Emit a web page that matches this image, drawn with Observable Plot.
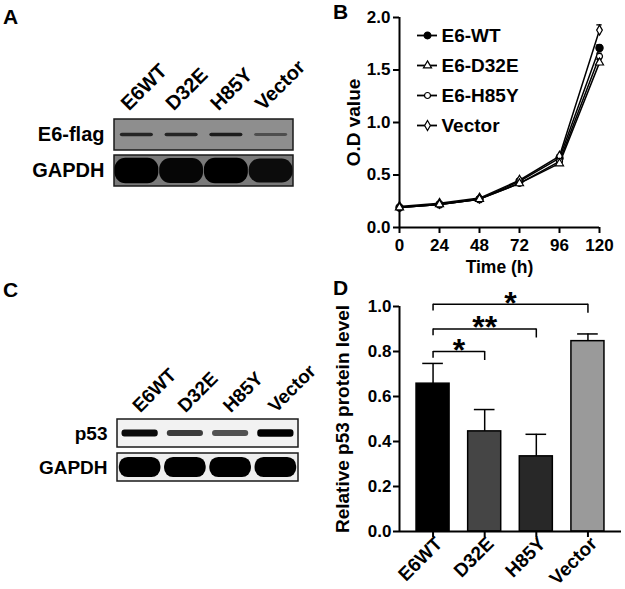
<!DOCTYPE html>
<html>
<head>
<meta charset="utf-8">
<script src="https://cdn.jsdelivr.net/npm/d3@7"></script>
<script src="https://cdn.jsdelivr.net/npm/@observablehq/plot@0.6"></script>
<style>
  body { margin: 0; background: #fff; }
  #fig { position: relative; width: 625px; height: 589px; background: #fff; overflow: hidden;
         font-family: "Liberation Sans", Arial, Helvetica, sans-serif; font-weight: bold; color: #000; }
  .panel { position: absolute; }
  .letter { position: absolute; font-size: 21px; line-height: 1; font-weight: bold; }
  svg { overflow: visible; }
</style>
</head>
<body>
<div id="fig">
  <div class="letter" style="left:3px;top:6px">A</div>
  <div class="letter" style="left:333px;top:1px">B</div>
  <div class="letter" style="left:3px;top:279px">C</div>
  <div class="letter" style="left:333px;top:277px">D</div>
</div>
<script>
// ---------------- data ----------------
const lanes = ["E6WT", "D32E", "H85Y", "Vector"];

// Panel A blot (relative band intensity 0..1)
const blotARows = ["E6-flag", "GAPDH"];
const e6flagIntensity = [0.75, 0.75, 0.8, 0.45];
const gapdhAIntensity = [1.0, 0.95, 1.0, 0.9];

// Panel C blot
const blotCRows = ["p53", "GAPDH"];
const p53Intensity = [0.95, 0.7, 0.6, 1.0];
const gapdhCIntensity = [1.0, 1.0, 1.0, 1.0];

// Panel B growth curves
const seriesNames = ["E6-WT", "E6-D32E", "E6-H85Y", "Vector"];
const timePoints = [0, 24, 48, 72, 96, 120];
const odWT     = [0.19, 0.22, 0.27, 0.44, 0.66, 1.71];
const odD32E   = [0.19, 0.22, 0.27, 0.42, 0.61, 1.57];
const odH85Y   = [0.19, 0.22, 0.27, 0.42, 0.63, 1.63];
const odVector = [0.20, 0.23, 0.28, 0.45, 0.68, 1.88];
const errWT     = [0.01, 0.01, 0.01, 0.01, 0.01, 0.03];
const errD32E   = [0.01, 0.01, 0.01, 0.01, 0.01, 0.03];
const errH85Y   = [0.01, 0.01, 0.01, 0.01, 0.01, 0.03];
const errVector = [0.01, 0.01, 0.01, 0.01, 0.01, 0.05];
const odTicks = [0, 0.5, 1.0, 1.5, 2.0];

// Panel D relative p53
const p53Level = [0.657, 0.445, 0.334, 0.846];
const p53Err   = [0.09, 0.097, 0.098, 0.032];
const barColors = ["#000000", "#454545", "#282828", "#9a9a9a"];
const p53Ticks = [0, 0.2, 0.4, 0.6, 0.8, 1.0];
const comparisons = [
  {a: 0, b: 1, h: 0.80, label: "*"},
  {a: 0, b: 2, h: 0.90, label: "**"},
  {a: 0, b: 3, h: 1.01, label: "*"}
];

// ---------------- helpers ----------------
const FONT = '"Liberation Sans", Arial, Helvetica, sans-serif';
const fig = document.getElementById("fig");
function place(node, left, top) {
  node.classList.add("panel");
  node.style.left = left + "px";
  node.style.top = top + "px";
  fig.appendChild(node);
}
function addBlur(svg, id, sd) {
  const s = d3.select(svg);
  const f = s.insert("defs", ":first-child").append("filter")
    .attr("id", id).attr("x", "-20%").attr("y", "-150%").attr("width", "140%").attr("height", "400%");
  f.append("feGaussianBlur").attr("stdDeviation", sd);
  s.selectAll('[aria-label="band"]').attr("filter", `url(#${id})`);
}

// ---------------- blot builder ----------------
function blot({rows, intensities, bgs, thick, halfW, shadeFrom, radius, width, height, mL, mR, mT, mB, padInner, labelDx, labelDy, fontSize}) {
  const bands = [];
  rows.forEach((r, ri) => intensities[ri].forEach((v, i) => bands.push({row: r, i, v,
    t: thick[ri] * (0.5 + 0.5 * v), hw: halfW[ri],
    fill: d3.interpolateRgb(shadeFrom[ri], "#000")(v)})));
  const rowData = rows.map((r, ri) => ({row: r, bg: bgs[ri]}));
  const marks = [
    Plot.rect(rowData, {fy: "row", x1: -0.5, x2: 3.5, y1: 0, y2: 1, fill: "bg", stroke: "#1a1a1a", strokeWidth: 1.5})
  ];
  rows.forEach((r, ri) => marks.push(
    Plot.rect(bands.filter(d => d.row === r), {fy: "row", x1: d => d.i - d.hw, x2: d => d.i + d.hw,
      y1: d => 0.5 - d.t / 2, y2: d => 0.5 + d.t / 2, fill: "fill", rx: radius[ri], ariaLabel: "band"})));
  marks.push(
    Plot.text(rows, {fy: d => d, text: d => d, frameAnchor: "left", dx: -10, textAnchor: "end", fontSize}),
    Plot.text(lanes, {fy: () => rows[0], x: (d, i) => i, text: d => d, frameAnchor: "top",
      dx: labelDx, dy: labelDy, rotate: -45, textAnchor: "start", lineAnchor: "bottom", fontSize})
  );
  return Plot.plot({
    width, height, marginLeft: mL, marginRight: mR, marginTop: mT, marginBottom: mB,
    x: {domain: [-0.5, 3.5], axis: null},
    y: {domain: [0, 1], axis: null},
    fy: {domain: rows, axis: null, paddingInner: padInner, paddingOuter: 0},
    color: {type: "identity"},
    style: {fontFamily: FONT, fontWeight: "bold", fontSize: fontSize + "px", color: "#000", background: "transparent", overflow: "visible"},
    marks
  });
}

// Panel A
const plotA = blot({
  rows: blotARows, intensities: [e6flagIntensity, gapdhAIntensity],
  bgs: ["#8e8e8e", "#7a7a7a"], thick: [0.13, 0.82], halfW: [0.37, 0.49], shadeFrom: ["#8e8e8e", "#7a7a7a"], radius: [2, 11],
  width: 310, height: 180, mL: 114, mR: 17, mT: 88, mB: 24, padInner: 0.14, labelDx: -8, labelDy: -8, fontSize: 20
});
addBlur(plotA, "blurA", 1.3);
place(plotA, 0, 30);

// Panel C
const plotC = blot({
  rows: blotCRows, intensities: [p53Intensity, gapdhCIntensity],
  bgs: ["#f2f2f2", "#eeeeee"], thick: [0.26, 0.72], halfW: [0.4, 0.46], shadeFrom: ["#cccccc", "#888888"], radius: [3, 9],
  width: 310, height: 200, mL: 117, mR: 12, mT: 119, mB: 19, padInner: 0.18, labelDx: 0, labelDy: -6, fontSize: 19
});
addBlur(plotC, "blurC", 1.1);
place(plotC, 0, 300);

// ---------------- Panel B ----------------
const odSeries = [odWT, odD32E, odH85Y, odVector];
const errSeries = [errWT, errD32E, errH85Y, errVector];
const growth = [];
seriesNames.forEach((s, si) => timePoints.forEach((t, ti) =>
  growth.push({s, t, v: odSeries[si][ti], e: errSeries[si][ti]})));
const drawOrder = [3, 2, 1, 0];
const growthSorted = drawOrder.flatMap(si => growth.filter(d => d.s === seriesNames[si]));

const symbolScale = {domain: seriesNames, range: ["circle", "triangle", "circle", "diamond"]};
const fillScale = {domain: seriesNames, range: ["#000", "#fff", "#fff", "#fff"]};

const plotB = Plot.plot({
  width: 305, height: 290, marginLeft: 79, marginTop: 17, marginBottom: 63, marginRight: 26,
  x: {domain: [0, 120]}, y: {domain: [0, 2]},
  symbol: symbolScale, color: fillScale,
  style: {fontFamily: FONT, fontWeight: "bold", fontSize: "17px", color: "#000", background: "transparent", overflow: "visible"},
  marks: [
    Plot.axisX({ticks: timePoints, tickSize: 6, tickPadding: 5, strokeWidth: 2, label: null, fontSize: 17}),
    Plot.axisY({ticks: odTicks, tickFormat: d => d.toFixed(1), tickSize: 6, tickPadding: 3, strokeWidth: 2, label: null, fontSize: 17}),
    Plot.ruleX([0], {y1: 0, y2: 2, strokeWidth: 2}),
    Plot.ruleY([0], {x1: 0, x2: 120, strokeWidth: 2}),
    Plot.text(["Time (h)"], {text: d => d, frameAnchor: "bottom", textAnchor: "middle", dy: 45, fontSize: 17.5}),
    Plot.text(["O.D value"], {text: d => d, frameAnchor: "left", textAnchor: "middle", dx: -46, rotate: -90, fontSize: 19}),
    Plot.ruleX(growth, {x: "t", y1: d => d.v - d.e, y2: d => d.v + d.e, strokeWidth: 1.3}),
    Plot.ruleY(growth, {y: d => d.v + d.e, x1: d => d.t - 1.6, x2: d => d.t + 1.6, strokeWidth: 1.3}),
    Plot.line(growth, {x: "t", y: "v", z: "s", stroke: "#000", strokeWidth: 1.5}),
    Plot.dot(growthSorted, {x: "t", y: "v", symbol: "s", fill: "s", stroke: "#000", strokeWidth: 1.2,
      r: d => d.s === "E6-WT" ? 4.8 : 3.3})
  ]
});
place(plotB, 320, 0);

// Legend for B
const plotBLegend = Plot.plot({
  width: 130, height: 120, marginLeft: 4, marginRight: 106, marginTop: 0, marginBottom: 0,
  x: {domain: [0, 1], axis: null},
  y: {type: "point", domain: seriesNames, padding: 0.5, axis: null},
  symbol: symbolScale, color: fillScale,
  style: {fontFamily: FONT, fontWeight: "bold", fontSize: "19px", color: "#000", background: "transparent", overflow: "visible"},
  marks: [
    Plot.ruleY(seriesNames, {y: d => d, x1: 0, x2: 1, strokeWidth: 1.8}),
    Plot.dot(seriesNames, {x: 0.5, y: d => d, symbol: d => d, fill: d => d, stroke: "#000", strokeWidth: 1.2,
      r: d => d === "E6-WT" ? 4.2 : 3.3}),
    Plot.text(seriesNames, {x: 1, y: d => d, text: d => d, dx: 4, textAnchor: "start", fontSize: 19})
  ]
});
place(plotBLegend, 413, 20);

// ---------------- Panel D ----------------
const bars = lanes.map((c, i) => ({c, i, v: p53Level[i], e: p53Err[i], fill: barColors[i]}));
const plotD = Plot.plot({
  width: 295, height: 309, marginLeft: 69, marginRight: 4, marginTop: 26, marginBottom: 58,
  x: {domain: [-0.65, 3.65]}, y: {domain: [0, 1]},
  color: {type: "identity"},
  style: {fontFamily: FONT, fontWeight: "bold", fontSize: "17px", color: "#000", background: "transparent", overflow: "visible"},
  marks: [
    Plot.ruleX(bars, {x: "i", y1: "v", y2: d => d.v + d.e, strokeWidth: 1.5}),
    Plot.ruleY(bars, {y: d => d.v + d.e, x1: d => d.i - 0.2, x2: d => d.i + 0.2, strokeWidth: 1.5}),
    Plot.rectY(bars, {x1: d => d.i - 0.32, x2: d => d.i + 0.32, y1: 0, y2: "v", fill: "fill", stroke: "#000", strokeWidth: 1.5}),
    Plot.axisX({ticks: [0, 1, 2, 3], tickSize: 6, tickPadding: 3, strokeWidth: 2, text: null, label: null}),
    Plot.axisX({ticks: [0, 1, 2, 3], tickFormat: i => lanes[i], tickRotate: -45, tickPadding: 3,
      label: null, fontSize: 19, dx: 6, dy: 6, tickSize: 0, strokeOpacity: 0}),
    Plot.axisY({ticks: p53Ticks, tickFormat: d => d.toFixed(1), tickSize: 6, tickPadding: 2, strokeWidth: 2, label: null, fontSize: 17}),
    Plot.ruleX([-0.65], {y1: 0, y2: 1, strokeWidth: 2}),
    Plot.ruleY([0], {strokeWidth: 2}),
    Plot.text(["Relative p53 protein level"], {text: d => d, frameAnchor: "left", textAnchor: "middle", dx: -57, rotate: -90, fontSize: 19}),
    Plot.link(comparisons, {x1: "a", x2: "b", y1: "h", y2: "h", strokeWidth: 1.5}),
    Plot.ruleX(comparisons, {x: "a", y1: d => d.h - 0.03, y2: "h", strokeWidth: 1.5}),
    Plot.ruleX(comparisons, {x: "b", y1: d => d.h - 0.04, y2: "h", strokeWidth: 1.5}),
    Plot.text(comparisons, {x: d => (d.a + d.b) / 2, y: "h", text: "label", dy: -1, fontSize: 32})
  ]
});
place(plotD, 330, 280);
</script>
</body>
</html>
